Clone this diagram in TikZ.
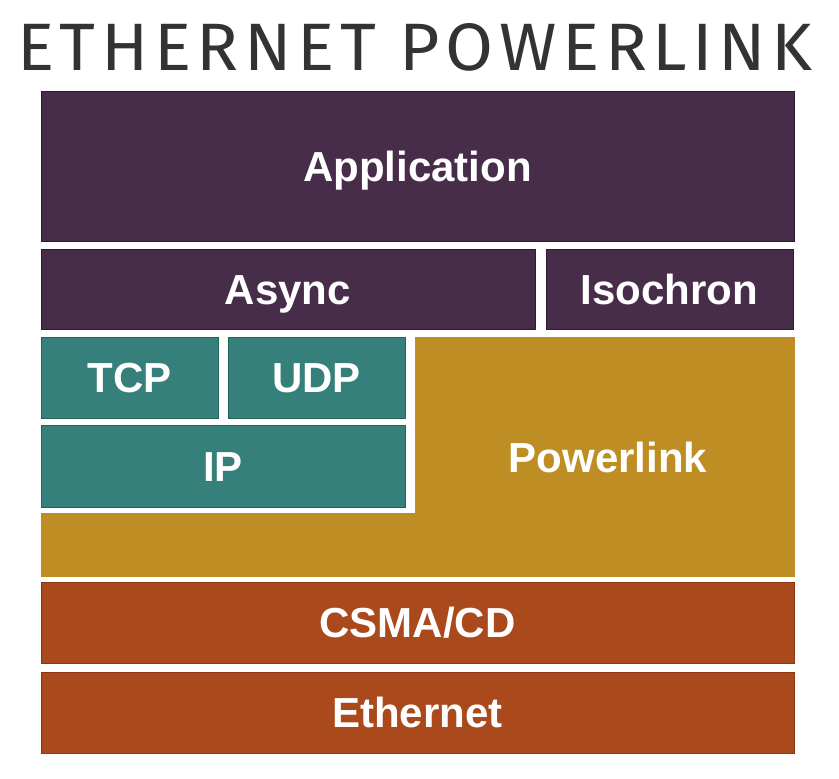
\documentclass[tikz,border=0pt]{standalone}
\usepackage{fontspec}
\setmainfont{Liberation Sans}
\newfontfamily\titlefont{Fira Sans}
\definecolor{purp}{HTML}{472D4A}
\definecolor{purpd}{HTML}{2E1A30}
\definecolor{teal2}{HTML}{35807A}
\definecolor{teald}{HTML}{25625C}
\definecolor{gold}{HTML}{BE8E25}
\definecolor{rust}{HTML}{AA4A1C}
\definecolor{rustd}{HTML}{8E3512}
\definecolor{ink}{HTML}{333333}
\begin{document}
\begin{tikzpicture}[x=1pt,y=-1pt,
  box/.style={anchor=north west,inner sep=0pt,outer sep=0pt,line width=1pt},
  lbl/.style={text=white,inner sep=0pt,text height=30pt,text depth=0pt,font=\fontsize{42}{42}\selectfont\bfseries},
  pbox/.style={box,fill=purp,draw=purpd},
  tbox/.style={box,fill=teal2,draw=teald},
  rbox/.style={box,fill=rust,draw=rustd}]
\useasboundingbox (0,0) rectangle (839,779);
\fill[white] (0,0) rectangle (839,779);
\node[inner sep=0pt,anchor=south west,text=ink] (title) at (17,72)
  {\resizebox{795pt}{47pt}{\titlefont\addfontfeature{LetterSpace=8}ETHERNET POWERLINK}};
\node[pbox,minimum width=753pt,minimum height=150pt] (app) at (41,91) {};
\node[lbl] at (app.center) {Application};
\node[pbox,minimum width=494pt,minimum height=80pt] (async) at (41,249) {};
\node[lbl] at (async.center) {Async};
\node[pbox,minimum width=247pt,minimum height=80pt] (iso) at (546,249) {};
\node[lbl] at (iso.center) {Isochron};
\draw[fill=gold,draw=gold,line width=1pt] (415,337) -- (794,337) -- (794,576) -- (41,576) -- (41,513) -- (415,513) -- cycle;
\node[lbl] (pl) at (608,457) {Powerlink};
\node[tbox,minimum width=177pt,minimum height=81pt] (tcp) at (41,337) {};
\node[lbl] at (tcp.center) {TCP};
\node[tbox,minimum width=177pt,minimum height=81pt] (udp) at (228,337) {};
\node[lbl] at (udp.center) {UDP};
\node[tbox,minimum width=364pt,minimum height=82pt] (ip) at (41,425) {};
\node[lbl] at (ip.center) {IP};
\node[rbox,minimum width=753pt,minimum height=81pt] (csma) at (41,582) {};
\node[lbl] at (csma.center) {CSMA/CD};
\node[rbox,minimum width=753pt,minimum height=81pt] (eth) at (41,672) {};
\node[lbl] at (eth.center) {Ethernet};
\end{tikzpicture}
\end{document}
